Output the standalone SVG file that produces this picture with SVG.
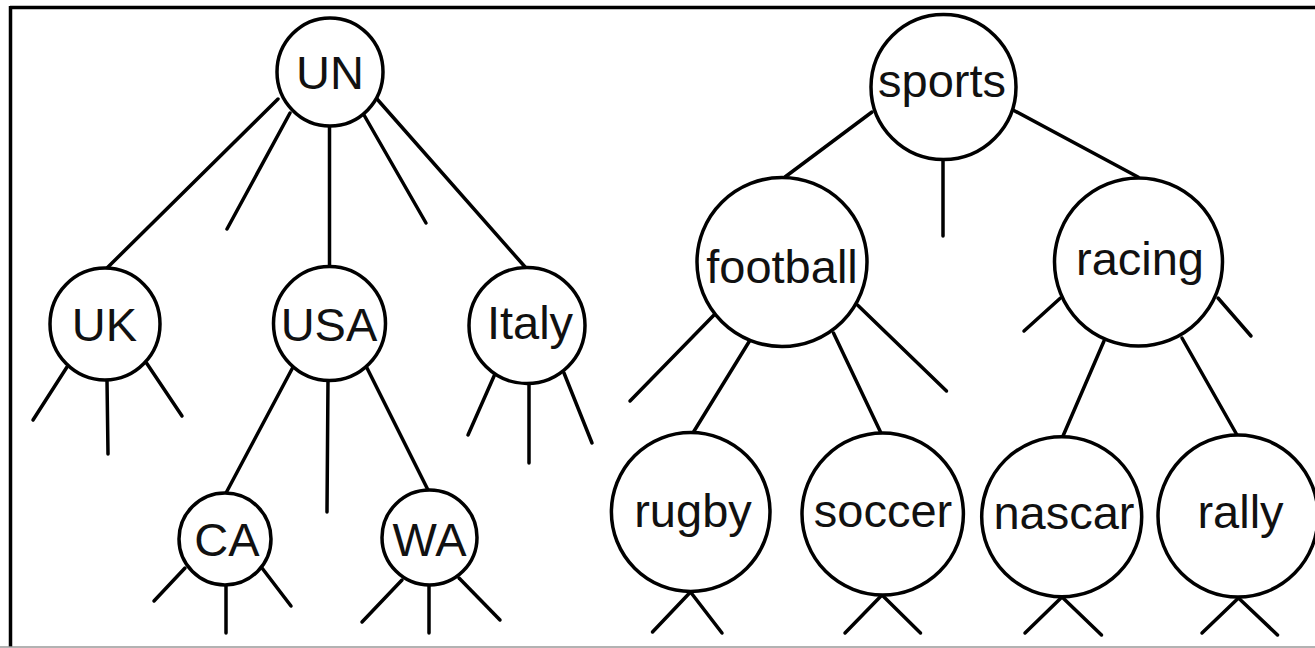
<svg xmlns="http://www.w3.org/2000/svg" width="1315" height="648" viewBox="0 0 1315 648">
<style>
.n{fill:#fff;stroke:#000;stroke-width:3.5}
.t{font-family:"Liberation Sans",Arial,sans-serif;font-size:47px;fill:#111;text-anchor:middle}
.c line{stroke:#000;stroke-width:3.5;stroke-linecap:round}
</style>
<rect width="1315" height="648" fill="#fff"/>
<g id="frame">
<line x1="10" y1="7.5" x2="1315" y2="7.5" stroke="#000" stroke-width="3.5"/>
<line x1="10.5" y1="6" x2="10.5" y2="647" stroke="#000" stroke-width="3.5"/>
<line x1="0" y1="647" x2="1315" y2="647" stroke="#999" stroke-width="1.5"/>
</g>
<g id="connectors" class="c">
<!-- UN -->
<line x1="278" y1="99" x2="107" y2="268"/>
<line x1="290" y1="113" x2="227" y2="229"/>
<line x1="329.5" y1="125" x2="329.5" y2="267"/>
<line x1="364" y1="115" x2="426" y2="223"/>
<line x1="377" y1="99" x2="526" y2="268"/>
<!-- UK -->
<line x1="67" y1="367" x2="33" y2="420"/>
<line x1="107" y1="380" x2="108" y2="454"/>
<line x1="146.5" y1="363" x2="182" y2="416"/>
<!-- USA -->
<line x1="292.5" y1="368" x2="226" y2="493"/>
<line x1="328" y1="380" x2="327" y2="512"/>
<line x1="367" y1="368" x2="428" y2="490"/>
<!-- Italy -->
<line x1="494.5" y1="375" x2="468" y2="435"/>
<line x1="529" y1="385" x2="529" y2="463"/>
<line x1="564" y1="373" x2="592" y2="443"/>
<!-- CA -->
<line x1="185" y1="568" x2="154" y2="601"/>
<line x1="226" y1="586" x2="226" y2="633"/>
<line x1="262" y1="568" x2="291" y2="606"/>
<!-- WA -->
<line x1="402" y1="580" x2="362" y2="622"/>
<line x1="429" y1="586" x2="429" y2="633"/>
<line x1="459" y1="578" x2="500" y2="620"/>
<!-- sports -->
<line x1="872" y1="112" x2="785" y2="177"/>
<line x1="943" y1="161" x2="943" y2="236"/>
<line x1="1013" y1="110" x2="1138" y2="177"/>
<!-- football -->
<line x1="714" y1="315" x2="630" y2="401"/>
<line x1="749.5" y1="341" x2="693.5" y2="432"/>
<line x1="833.5" y1="333" x2="880.5" y2="432"/>
<line x1="857.5" y1="305" x2="946.5" y2="391"/>
<!-- racing -->
<line x1="1060.5" y1="298" x2="1024" y2="331"/>
<line x1="1104" y1="341" x2="1063" y2="436"/>
<line x1="1182" y1="338" x2="1237" y2="435"/>
<line x1="1218" y1="298" x2="1251" y2="336"/>
<!-- leaves -->
<line x1="690.5" y1="592" x2="652.5" y2="632"/>
<line x1="690.5" y1="592" x2="722" y2="633"/>
<line x1="882" y1="595" x2="845" y2="633"/>
<line x1="882" y1="595" x2="920.5" y2="633"/>
<line x1="1062" y1="597" x2="1025" y2="633"/>
<line x1="1062" y1="597" x2="1101.5" y2="635"/>
<line x1="1238.5" y1="598" x2="1202" y2="633"/>
<line x1="1238.5" y1="598" x2="1277.5" y2="635"/>
</g>
<g id="UN"><ellipse class="n" cx="330" cy="72" rx="53" ry="54"/><text class="t" x="330" y="89">UN</text></g>
<g id="UK"><ellipse class="n" cx="105" cy="324" rx="55" ry="56"/><text class="t" x="104.5" y="341">UK</text></g>
<g id="USA"><ellipse class="n" cx="329.5" cy="323.5" rx="56" ry="57"/><text class="t" x="329" y="341">USA</text></g>
<g id="Italy"><ellipse class="n" cx="527" cy="325.5" rx="58" ry="58"/><text class="t" x="530" y="339">Italy</text></g>
<g id="CA"><ellipse class="n" cx="225" cy="539" rx="46" ry="46"/><text class="t" x="227" y="556">CA</text></g>
<g id="WA"><ellipse class="n" cx="429.5" cy="537.5" rx="47.5" ry="47.5"/><text class="t" x="429.5" y="556">WA</text></g>
<g id="sports"><ellipse class="n" cx="943.5" cy="87" rx="72.5" ry="72.5"/><text class="t" x="942" y="97">sports</text></g>
<g id="football"><ellipse class="n" cx="782" cy="262" rx="85" ry="84.5"/><text class="t" x="782" y="283">football</text></g>
<g id="racing"><ellipse class="n" cx="1138.5" cy="262" rx="84" ry="84"/><text class="t" x="1140" y="275">racing</text></g>
<g id="rugby"><ellipse class="n" cx="690.7" cy="512" rx="79.3" ry="79.5"/><text class="t" x="693" y="527">rugby</text></g>
<g id="soccer"><ellipse class="n" cx="882.7" cy="514" rx="80.7" ry="81"/><text class="t" x="883" y="527">soccer</text></g>
<g id="nascar"><ellipse class="n" cx="1061.7" cy="516.7" rx="80" ry="80"/><text class="t" x="1064" y="529">nascar</text></g>
<g id="rally"><ellipse class="n" cx="1238" cy="516" rx="80" ry="81"/><text class="t" x="1240.5" y="528">rally</text></g>
</svg>
